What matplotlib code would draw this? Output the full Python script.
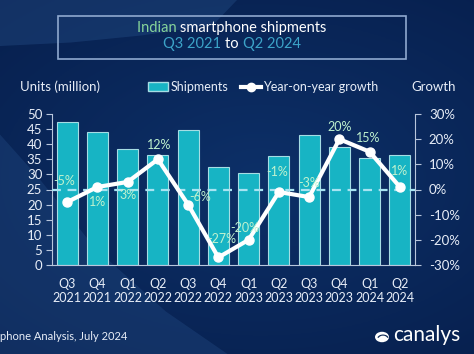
import numpy as np
import matplotlib
matplotlib.use("Agg")
import matplotlib.pyplot as plt
from matplotlib.patches import Rectangle, Polygon, Circle, Wedge, Patch
from matplotlib.lines import Line2D

plt.rcParams["font.family"] = ["Lato", "DejaVu Sans"]

quarters = ["Q3\n2021", "Q4\n2021", "Q1\n2022", "Q2\n2022", "Q3\n2022", "Q4\n2022",
            "Q1\n2023", "Q2\n2023", "Q3\n2023", "Q4\n2023", "Q1\n2024", "Q2\n2024"]
shipments = [47.4, 44.1, 38.3, 36.3, 44.6, 32.3, 30.6, 36.1, 43.1, 39.0, 35.4, 36.5]
growth = [-5, 1, 3, 12, -6, -27, -20, -1, -3, 20, 15, 1]
# label offsets in pixels (dx, dy)
label_off = [(-3, 21), (0, -15), (0, -13), (1, 14), (12, 8), (3, 18),
             (-4, 12), (-2, 20), (0, 14), (0, 12), (-1, 14), (0, 16)]

W, H = 474, 354
fig = plt.figure(figsize=(W / 100, H / 100), dpi=100)

# background
bg = fig.add_axes([0, 0, 1, 1], zorder=-10)
yy, xx = np.mgrid[0:1:200j, 0:1:260j]
d = np.sqrt(((xx - 0.55) / 1.1) ** 2 + ((yy - 0.5) / 0.9) ** 2)
c0 = np.array([0x0d, 0x30, 0x68]) / 255
c1 = np.array([0x05, 0x1a, 0x45]) / 255
img = c0[None, None, :] * (1 - d[..., None]) + c1[None, None, :] * d[..., None]
bg.imshow(np.clip(img, 0, 1), extent=[0, 1, 0, 1], aspect="auto", origin="upper")
bg.add_patch(Polygon([[0, 1], [0.5, 1], [0.45, 0.93], [0.3, 0.9], [0.15, 0.88], [0, 0.87]],
                     closed=True, color="#2a5590", alpha=0.35, lw=0))
bg.add_patch(Polygon([[0, 0], [0.48, 0], [0.35, 0.12], [0.2, 0.3], [0.08, 0.5], [0, 0.62]],
                     closed=True, color="#2a5590", alpha=0.3, lw=0))
bg.set_xlim(0, 1)
bg.set_ylim(0, 1)
bg.axis("off")

ax = fig.add_axes([52 / W, 1 - 265 / H, (415 - 52) / W, (265 - 114) / H])
ax.set_facecolor("none")
x = np.arange(len(quarters))
ax.bar(x, shipments, width=0.7, color="#17b4c4", edgecolor="#a6dde4", linewidth=0.8, zorder=2)
ax.set_xlim(-0.5, len(quarters) - 0.5)
ax.set_ylim(0, 50)
ax.set_yticks(range(0, 51, 5))
ax.set_xticks(x)
ax.set_xticklabels(quarters, color="#e8eef8", fontsize=9, linespacing=1.3)
ax.tick_params(axis="x", length=0, pad=9)
ax.tick_params(axis="y", colors="#b8c6dc", labelcolor="#e8eef8", labelsize=9.5, length=4, pad=3)
for s in ["top", "right"]:
    ax.spines[s].set_visible(False)
for s in ["left", "bottom"]:
    ax.spines[s].set_color("#b8c6dc")

ax2 = ax.twinx()
ax2.set_ylim(-30, 30)
ax2.set_yticks(range(-30, 31, 10))
ax2.set_yticklabels([f"{v}%" for v in range(-30, 31, 10)])
ax2.tick_params(axis="y", colors="#b8c6dc", labelcolor="#e8eef8", labelsize=9.5, length=4, pad=6)
for s in ["top", "left", "bottom"]:
    ax2.spines[s].set_visible(False)
ax2.spines["right"].set_color("#b8c6dc")
ax2.axhline(0, color="#a8e4f2", lw=1.6, ls=(0, (4, 3)), zorder=3)
ax2.plot(x, growth, color="white", lw=3, marker="o", ms=6.5, zorder=4)
for xi, g, (dx, dy) in zip(x, growth, label_off):
    ax2.annotate(f"{g}%", (xi, g), xytext=(dx, dy), textcoords="offset pixels",
                 ha="center", va="center", color="#bff2cf", fontsize=9, zorder=5)

# title box
fig.add_artist(Rectangle((58 / W, 1 - 59 / H), (406 - 58) / W, 43 / H, transform=fig.transFigure,
                         fill=False, edgecolor="#8fa9cf", lw=1.2))

renderer = fig.canvas.get_renderer()


def colored_line(parts, yc, size=10.5):
    texts = [fig.text(0, 1 - yc / H, s, color=c, fontsize=size, va="baseline") for s, c in parts]
    widths = [t.get_window_extent(renderer).width for t in texts]
    total = sum(widths)
    x0 = 232 - total / 2
    for t, w in zip(texts, widths):
        t.set_x(x0 / W)
        x0 += w


colored_line([("Indian ", "#86d49a"), ("smartphone shipments", "white")], 32)
colored_line([("Q3 2021 ", "#3ca3c8"), ("to ", "white"), ("Q2 2024", "#3ca3c8")], 48)

# legend row
fig.text(20 / W, 1 - 87 / H, "Units (million)", color="#e8eef8", fontsize=9.5, va="center")
fig.text(456 / W, 1 - 87 / H, "Growth", color="#e8eef8", fontsize=9.5, va="center", ha="right")
handles = [Patch(facecolor="#17b4c4", edgecolor="#a6dde4"),
           Line2D([], [], color="white", lw=3, marker="o", ms=6)]
fig.legend(handles, ["Shipments", "Year-on-year growth"], loc="center",
           bbox_to_anchor=(263 / W, 1 - 87 / H), ncol=2, frameon=False,
           labelcolor="#e8eef8", fontsize=9, handlelength=1.6, handletextpad=0.2,
           columnspacing=1.0)

# footer
fig.text(0, 1 - 337 / H, "phone Analysis, July 2024", color="#e8eef8", fontsize=8, va="center")
fig.text(393 / W, 1 - 335 / H, "canalys", color="white", fontsize=15, va="center")
fig.add_artist(Circle((382 / W, 1 - 337 / H), 7 / W, transform=fig.transFigure,
                      color="white", lw=0))
fig.add_artist(Wedge((383 / W, 1 - 339 / H), 6 / W, 20, 160, width=1.5 / W,
                     transform=fig.transFigure, color="#0a2552", lw=0))

fig.savefig("out.png", dpi=100)
